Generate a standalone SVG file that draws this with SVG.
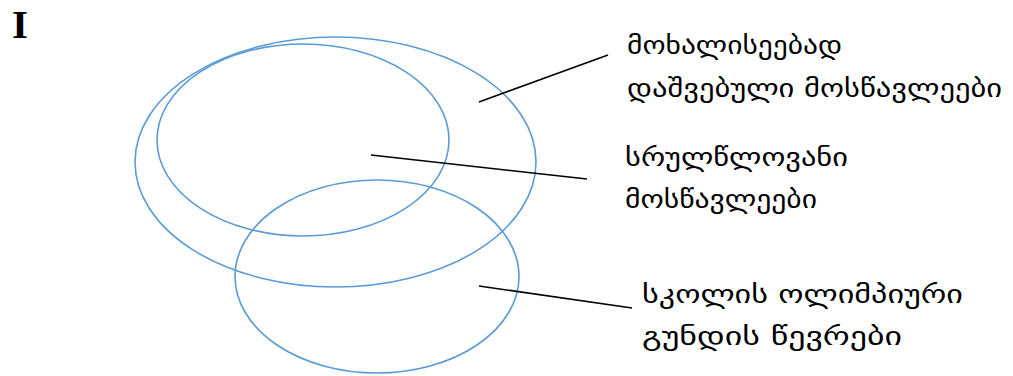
<svg xmlns="http://www.w3.org/2000/svg" width="1013" height="376" viewBox="0 0 1013 376">
<style>
.set{fill:none;stroke:#5B9BD5;stroke-width:1.6}
.lead{stroke:#000;stroke-width:1.6}
.lbl{font-family:"DejaVu Sans","Noto Sans",sans-serif;font-size:25px;fill:#000}
.num{font-family:"Liberation Serif",serif;font-size:41px;font-weight:bold;fill:#000}
</style>
<rect width="1013" height="376" fill="#fff"/>
<text class="num" x="12" y="38">I</text>
<g id="volunteers"><ellipse class="set" cx="335.5" cy="162" rx="200.5" ry="125"/></g>
<g id="fulltime"><ellipse class="set" cx="303" cy="140" rx="146" ry="96"/></g>
<g id="olympiad"><ellipse class="set" cx="377" cy="276.5" rx="142" ry="96.5"/></g>
<g id="connectors">
<line class="lead" x1="479" y1="102" x2="608" y2="55"/>
<line class="lead" x1="371" y1="155" x2="587" y2="179"/>
<line class="lead" x1="479" y1="286" x2="632" y2="308"/>
</g>
<g id="label-volunteers"><text class="lbl" x="627" y="54" textLength="215" lengthAdjust="spacingAndGlyphs">მოხალისეებად</text><text class="lbl" x="627" y="97" textLength="375" lengthAdjust="spacingAndGlyphs">დაშვებული მოსწავლეები</text></g>
<g id="label-fulltime"><text class="lbl" x="625" y="166" textLength="223" lengthAdjust="spacingAndGlyphs">სრულწლოვანი</text><text class="lbl" x="625" y="208" textLength="192" lengthAdjust="spacingAndGlyphs">მოსწავლეები</text></g>
<g id="label-olympiad"><text class="lbl" x="642" y="303" textLength="321" lengthAdjust="spacingAndGlyphs">სკოლის ოლიმპიური</text><text class="lbl" x="642" y="345" textLength="260" lengthAdjust="spacingAndGlyphs">გუნდის წევრები</text></g>
</svg>
